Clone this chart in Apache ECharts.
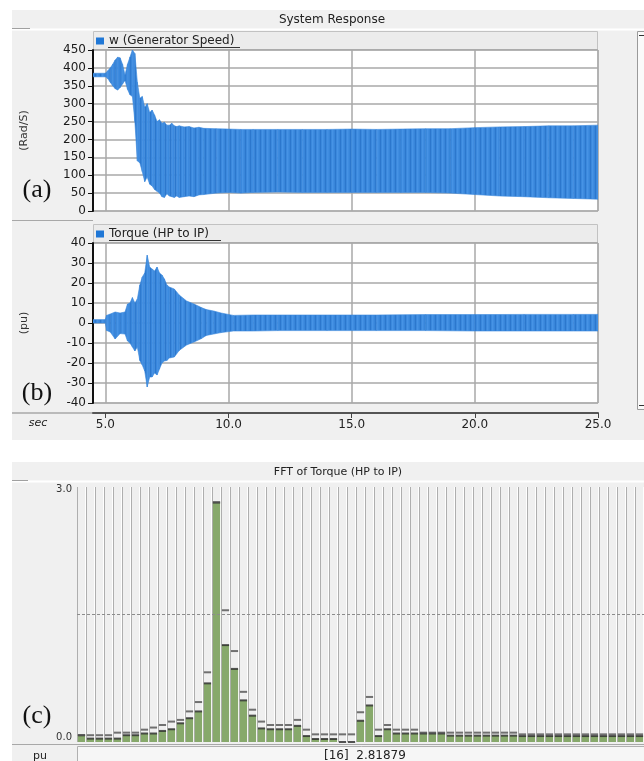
<!DOCTYPE html>
<html>
<head>
<meta charset="utf-8">
<script src="https://cdn.jsdelivr.net/npm/echarts@6/dist/echarts.min.js"></script>
<style>
html, body { margin: 0; padding: 0; background: #fff; }
#chart { width: 644px; height: 761px; }
</style>
</head>
<body>
<div id="chart"></div>
<script>
// time axis ticks (sec)
const timeTicks = [5, 10, 15, 20, 25]

// w (Generator Speed) envelope, Rad/S
const speedTime = [4.5, 5.0, 5.1, 5.2, 5.3, 5.4, 5.5, 5.6, 5.7, 5.8,
  5.9, 6.0, 6.1, 6.2, 6.3, 6.4, 6.5, 6.6, 6.7, 6.8,
  6.9, 7.0, 7.1, 7.2, 7.3, 7.4, 7.5, 7.6, 7.7, 7.8,
  7.9, 8.0, 8.2, 8.4, 8.6, 8.8, 9.0, 9.5, 10, 10.5,
  11, 12, 13, 14, 15, 16, 17, 18, 19, 20,
  21, 22, 23, 24, 25]
const speedLow = [375, 375, 370, 360, 350, 342, 338, 345, 355, 365,
  340, 325, 320, 250, 140, 135, 110, 82, 95, 75,
  70, 60, 55, 50, 40, 38, 48, 42, 40, 38,
  42, 38, 40, 42, 40, 45, 46, 50, 52, 50,
  52, 53, 52, 52, 52, 52, 52, 52, 50, 46,
  42, 40, 37, 35, 33]
const speedHigh = [385, 385, 392, 400, 410, 422, 430, 428, 410, 380,
  410, 430, 450, 440, 360, 315, 320, 290, 300, 275,
  282, 268, 250, 255, 245, 248, 240, 240, 245, 238,
  236, 238, 235, 236, 232, 234, 231, 230, 229, 228,
  228, 228, 228, 228, 229, 228, 229, 230, 230, 233,
  235, 236, 238, 238, 240]

// Torque (HP to IP) envelope, pu
const torqueTime = [4.5, 5.0, 5.05, 5.2, 5.4, 5.6, 5.8, 5.9, 6.0, 6.1,
  6.2, 6.3, 6.4, 6.5, 6.6, 6.7, 6.8, 6.9, 7.0, 7.1,
  7.2, 7.3, 7.4, 7.5, 7.6, 7.8, 8.0, 8.3, 8.6, 8.9,
  9.1, 9.4, 9.7, 10.2, 11, 12, 14, 16, 18, 20,
  22, 24, 25]
const torqueLow = [0, 0, -3.7, -4.5, -8, -5.3, -5.5, -9, -10, -12,
  -14, -12, -18.7, -21, -24, -32, -27, -27, -25, -26,
  -23, -20, -19, -18.7, -17.5, -17, -13.7, -11, -9.5, -7.8,
  -6.2, -5.5, -4.8, -4, -4, -3.8, -3.8, -3.8, -3.8, -4,
  -4, -4, -4]
const torqueHigh = [1.7, 1.7, 3.8, 4.5, 5.5, 5.0, 5.5, 9.5, 10, 12.7,
  10, 12, 19, 23, 25, 33.9, 28, 27, 26, 28,
  25, 24, 22, 19, 18, 17, 14, 11, 9.5, 7.7,
  6.7, 6, 5, 3.8, 4, 4, 4, 4, 4.2, 4.2,
  4.3, 4.3, 4.3]

// FFT of Torque (HP to IP): bin values and the upper marks
const fftValue = [0.08, 0.04, 0.04, 0.04, 0.04, 0.08, 0.08, 0.10, 0.10, 0.13,
  0.15, 0.22, 0.28, 0.36, 0.69, 2.81879, 1.14, 0.86, 0.49, 0.31,
  0.16, 0.15, 0.15, 0.15, 0.19, 0.07, 0.035, 0.035, 0.035, 0.0,
  0.0, 0.25, 0.43, 0.07, 0.15, 0.10, 0.10, 0.10, 0.10, 0.10,
  0.10, 0.075, 0.075, 0.075, 0.075, 0.075, 0.075, 0.075, 0.075, 0.07,
  0.07, 0.07, 0.07, 0.07, 0.07, 0.07, 0.07, 0.07, 0.07, 0.07,
  0.07, 0.07, 0.07]
const fftMark = [0.08, 0.08, 0.08, 0.08, 0.11, 0.11, 0.11, 0.145, 0.17, 0.20,
  0.24, 0.26, 0.36, 0.47, 0.82, 2.81879, 1.55, 1.07, 0.59, 0.38,
  0.24, 0.20, 0.20, 0.20, 0.26, 0.145, 0.09, 0.09, 0.09, 0.09,
  0.09, 0.35, 0.53, 0.145, 0.20, 0.145, 0.145, 0.145, 0.11, 0.11,
  0.11, 0.11, 0.11, 0.11, 0.11, 0.11, 0.11, 0.11, 0.11, 0.09,
  0.09, 0.09, 0.09, 0.09, 0.09, 0.09, 0.09, 0.09, 0.09, 0.09,
  0.09, 0.09, 0.09]
const fftBins = fftValue.map((v, i) => String(i + 1))
const fftGuide = 1.5

const font = 'DejaVu Sans'
const blue = '#3a88dc'
const gridGray = '#a9a9a9'

const peakIdx = fftValue.indexOf(Math.max(...fftValue))

// striped fill, like the dense oscillation in the plots
const stripeCanvas = document.createElement('canvas')
stripeCanvas.width = 5
stripeCanvas.height = 2
const sctx = stripeCanvas.getContext('2d')
const stripeCols = ['#2c77cd', '#3b89dd', '#4793e5', '#3f8ce0', '#3886da']
stripeCols.forEach((c, i) => { sctx.fillStyle = c; sctx.fillRect(i, 0, 1, 2) })
const stripeFill = {image: stripeCanvas, repeat: 'repeat'}

// band between low and high envelope, drawn segment by segment
const bandSeries = (name, idx, times, lows, highs) => ({
  name,
  type: 'custom',
  xAxisIndex: idx,
  yAxisIndex: idx,
  clip: true,
  itemStyle: {color: '#1f77d6'},
  encode: {x: 0, y: [1, 2]},
  data: times.map((t, i) => [t, lows[i], highs[i]]),
  renderItem: (params, api) => {
    const i = params.dataIndex
    if (i >= times.length - 1) return null
    const pts = [
      api.coord([times[i], highs[i]]),
      api.coord([times[i + 1], highs[i + 1]]),
      api.coord([times[i + 1], lows[i + 1]]),
      api.coord([times[i], lows[i]])
    ]
    return {
      type: 'polygon',
      shape: {points: pts},
      style: {fill: stripeFill, stroke: blue, lineWidth: 0.6}
    }
  }
})

const timeAxis = (idx, withLabels) => ({
  type: 'value',
  gridIndex: idx,
  min: 4.5,
  max: 25,
  position: 'bottom',
  offset: withLabels ? 10 : 0,
  axisLine: {show: withLabels, onZero: false, lineStyle: {color: '#555', width: 2}},
  axisTick: {show: withLabels, customValues: timeTicks, length: 5, lineStyle: {color: '#444'}},
  axisLabel: {
    show: withLabels, customValues: timeTicks, fontSize: 12, color: '#222', fontFamily: font, margin: 6,
    formatter: v => v.toFixed(1)
  },
  splitLine: {show: true, lineStyle: {color: gridGray, width: 1.5}}
})

const valueAxis = (idx, min, max, step, name) => ({
  type: 'value',
  gridIndex: idx,
  min, max, interval: step,
  name,
  nameLocation: 'middle',
  nameGap: 63,
  nameTextStyle: {fontSize: 11, color: '#333', fontFamily: font},
  axisLine: {show: true, lineStyle: {color: '#111', width: 2}},
  axisTick: {show: true, length: 5, lineStyle: {color: '#111'}},
  axisLabel: {fontSize: 12, color: '#1a1a1a', fontFamily: font, margin: 7},
  splitLine: {show: true, lineStyle: {color: gridGray, width: 1.5}}
})

const legendBox = (top, name) => ({
  data: [name],
  left: 96,
  top,
  padding: 0,
  icon: 'rect',
  itemWidth: 8,
  itemHeight: 7,
  selectedMode: false,
  textStyle: {fontSize: 12, color: '#222', fontFamily: font}
})

const chart = echarts.init(document.getElementById('chart'))

const option = {
  backgroundColor: '#ffffff',
  animation: false,
  textStyle: {fontFamily: font},
  legend: [
    legendBox(35, 'w (Generator Speed)'),
    legendBox(228, 'Torque (HP to IP)')
  ],
  grid: [
    {left: 93, top: 50, width: 505, height: 161, show: true, backgroundColor: '#fff', borderColor: gridGray},
    {left: 93, top: 243, width: 505, height: 160, show: true, backgroundColor: '#fff', borderColor: gridGray},
    {left: 77, top: 487, width: 567, height: 255, show: true, backgroundColor: '#fff', borderWidth: 0}
  ],
  xAxis: [
    timeAxis(0, false),
    timeAxis(1, true),
    {
      type: 'category', gridIndex: 2, data: fftBins,
      axisLine: {show: false}, axisTick: {show: false}, axisLabel: {show: false},
      splitLine: {show: true, interval: 0, lineStyle: {color: '#a6a6a6', width: 1}}
    }
  ],
  yAxis: [
    valueAxis(0, 0, 450, 50, '(Rad/S)'),
    valueAxis(1, -40, 40, 10, '(pu)'),
    {
      type: 'value', gridIndex: 2, min: 0, max: 3, interval: 1.5,
      axisLine: {show: false}, axisTick: {show: false},
      axisLabel: {
        fontSize: 10, color: '#333', fontFamily: font, margin: 5,
        formatter: v => (v === 1.5 ? '' : v === 0 ? '{lo|0.0}' : '{hi|' + v.toFixed(1) + '}'),
        rich: {
          lo: {fontSize: 10, color: '#333', fontFamily: font, padding: [0, 0, 9, 0]},
          hi: {fontSize: 10, color: '#333', fontFamily: font, padding: [4, 0, 0, 0]}
        }
      },
      splitLine: {show: false}
    }
  ],
  series: [
    bandSeries('w (Generator Speed)', 0, speedTime, speedLow, speedHigh),
    bandSeries('Torque (HP to IP)', 1, torqueTime, torqueLow, torqueHigh),
    {
      name: 'FFT',
      type: 'bar',
      xAxisIndex: 2,
      yAxisIndex: 2,
      data: fftValue,
      barCategoryGap: '20%',
      showBackground: true,
      backgroundStyle: {color: '#efefef'},
      itemStyle: {color: '#87a96b'},
      markLine: {
        silent: true,
        symbol: 'none',
        label: {show: false},
        lineStyle: {color: '#8c8c8c', type: [3, 2], width: 1},
        data: [{yAxis: fftGuide}]
      }
    },
    {
      name: 'FFT top',
      type: 'scatter',
      xAxisIndex: 2,
      yAxisIndex: 2,
      symbol: 'rect',
      symbolSize: [7.2, 2],
      itemStyle: {color: '#2a2a2a'},
      z: 4,
      data: fftValue
    },
    {
      name: 'FFT mark',
      type: 'scatter',
      xAxisIndex: 2,
      yAxisIndex: 2,
      symbol: 'rect',
      symbolSize: [7.2, 2],
      itemStyle: {color: '#505050'},
      z: 4,
      data: fftMark
    }
  ],
  graphic: {
    elements: [
      // panel backgrounds
      {type: 'rect', z: -10, shape: {x: 12, y: 10, width: 632, height: 430}, style: {fill: '#f0f0f0'}},
      {type: 'rect', z: -10, shape: {x: 12, y: 462, width: 632, height: 299}, style: {fill: '#f0f0f0'}},
      {type: 'line', z: -9, shape: {x1: 12, y1: 29.5, x2: 644, y2: 29.5}, style: {stroke: '#fff', lineWidth: 2}},
      {type: 'line', z: -8, shape: {x1: 12, y1: 28.5, x2: 30, y2: 28.5}, style: {stroke: '#a0a0a0', lineWidth: 1}},
      {type: 'rect', z: -9, shape: {x: 93.5, y: 31.5, width: 504, height: 18}, style: {fill: '#ececec', stroke: '#c2c2c2'}},
      {type: 'rect', z: -9, shape: {x: 93.5, y: 224.5, width: 504, height: 18}, style: {fill: '#ececec', stroke: '#c2c2c2'}},
      {type: 'line', z: -9, shape: {x1: 12, y1: 220.5, x2: 93, y2: 220.5}, style: {stroke: '#a8a8a8', lineWidth: 1}},
      {type: 'line', z: -9, shape: {x1: 12, y1: 413, x2: 93, y2: 413}, style: {stroke: '#a8a8a8', lineWidth: 1.5}},
      {type: 'rect', z: -9, shape: {x: 637.5, y: 31.5, width: 8, height: 378}, style: {fill: '#fafafa', stroke: '#9a9a9a'}},
      {type: 'line', z: -8, shape: {x1: 639, y1: 35.5, x2: 644, y2: 35.5}, style: {stroke: '#333', lineWidth: 1}},
      {type: 'line', z: -8, shape: {x1: 639, y1: 405.5, x2: 644, y2: 405.5}, style: {stroke: '#333', lineWidth: 1}},
      {type: 'line', z: -9, shape: {x1: 12, y1: 481.5, x2: 644, y2: 481.5}, style: {stroke: '#fff', lineWidth: 2}},
      {type: 'line', z: -8, shape: {x1: 12, y1: 480.5, x2: 28, y2: 480.5}, style: {stroke: '#a0a0a0', lineWidth: 1}},
      {type: 'line', z: -9, shape: {x1: 12, y1: 744.5, x2: 644, y2: 744.5}, style: {stroke: '#a8a8a8', lineWidth: 1}},
      {type: 'rect', z: -9, shape: {x: 77.5, y: 746.5, width: 570, height: 16}, style: {fill: '#f6f6f6', stroke: '#b0b0b0'}},
      // legend underlines
      {type: 'line', z: 50, shape: {x1: 108, y1: 47.5, x2: 240, y2: 47.5}, style: {stroke: '#333', lineWidth: 1}},
      {type: 'line', z: 50, shape: {x1: 109, y1: 240.5, x2: 221, y2: 240.5}, style: {stroke: '#333', lineWidth: 1}},
      // titles and labels
      {type: 'text', z: 50, x: 332, y: 20, style: {text: 'System Response', font: '12px "DejaVu Sans"', fill: '#222', textAlign: 'center', textVerticalAlign: 'middle'}},
      {type: 'text', z: 50, x: 338, y: 472, style: {text: 'FFT of Torque (HP to IP)', font: '11px "DejaVu Sans"', fill: '#222', textAlign: 'center', textVerticalAlign: 'middle'}},
      {type: 'text', z: 50, x: 37, y: 190, style: {text: '(a)', font: '26px "Liberation Serif"', fill: '#111', textAlign: 'center', textVerticalAlign: 'middle'}},
      {type: 'text', z: 50, x: 37, y: 393, style: {text: '(b)', font: '26px "Liberation Serif"', fill: '#111', textAlign: 'center', textVerticalAlign: 'middle'}},
      {type: 'text', z: 50, x: 37, y: 716, style: {text: '(c)', font: '26px "Liberation Serif"', fill: '#111', textAlign: 'center', textVerticalAlign: 'middle'}},
      {type: 'text', z: 50, x: 38, y: 423, style: {text: 'sec', font: 'italic 11px "DejaVu Sans"', fill: '#222', textAlign: 'center', textVerticalAlign: 'middle'}},
      {type: 'text', z: 50, x: 40, y: 756, style: {text: 'pu', font: '11px "DejaVu Sans"', fill: '#222', textAlign: 'center', textVerticalAlign: 'middle'}},
      {type: 'text', z: 50, x: 324, y: 756, style: {text: '[' + (peakIdx + 1) + ']  ' + fftValue[peakIdx], font: '12px "DejaVu Sans"', fill: '#222', textAlign: 'left', textVerticalAlign: 'middle'}}
    ]
  }
}

chart.setOption(option)
</script>
</body>
</html>
